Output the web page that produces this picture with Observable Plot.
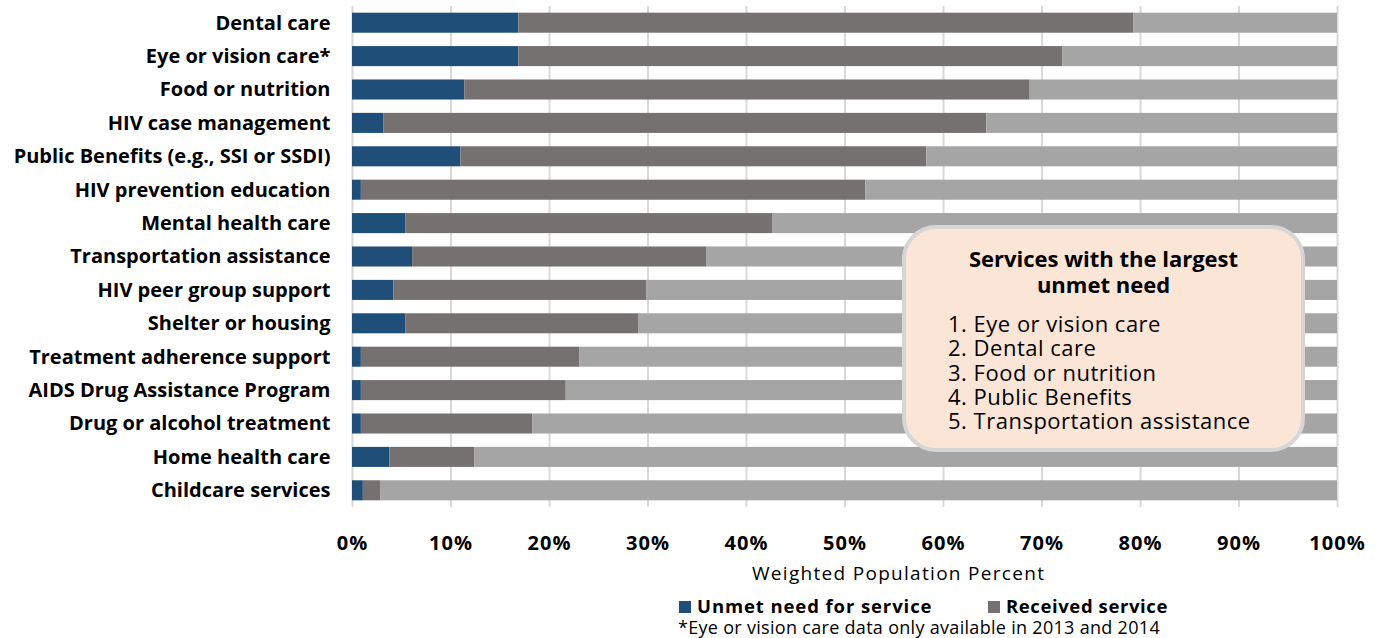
<!DOCTYPE html>
<html><head><meta charset="utf-8">
<script src="https://cdn.jsdelivr.net/npm/d3@7"></script>
<script src="https://cdn.jsdelivr.net/npm/@observablehq/plot@0.6"></script>
<style>
body{margin:0;background:#fff;font-family:"Open Sans",sans-serif;}
#wrap{position:relative;width:1382px;height:638px;overflow:hidden;}
.abs{position:absolute;white-space:nowrap;color:#000;}
#box{position:absolute;left:902px;top:225px;width:403px;height:227px;box-sizing:border-box;border:4px solid #d6d6d6;border-radius:34px;background:#fbe5d6;}
.sw{display:inline-block;width:12px;height:12px;margin-right:6px;vertical-align:0px;}
</style></head>
<body><div id="wrap"></div>
<script>
const categories = ["Dental care","Eye or vision care*","Food or nutrition","HIV case management","Public Benefits (e.g., SSI or SSDI)","HIV prevention education","Mental health care","Transportation assistance","HIV peer group support","Shelter or housing","Treatment adherence support","AIDS Drug Assistance Program","Drug or alcohol treatment","Home health care","Childcare services"];
const unmet    = [16.9, 16.9, 11.4, 3.2, 11.0, 0.9, 5.4, 6.1, 4.2, 5.4, 0.9, 0.9, 0.9, 3.8, 1.1];
const received = [62.4, 55.2, 57.4, 61.2, 47.3, 51.2, 37.3, 29.9, 25.7, 23.7, 22.2, 20.8, 17.4, 8.6, 1.8];
const seriesNames = ["Unmet need for service","Received service","Other"];
const seriesColors = ["#1f4e79","#767171","#a5a5a5"];
const xTicks = [0,10,20,30,40,50,60,70,80,90,100];
const boxTitle = ["Services with the largest","unmet need"];
const topList = ["1. Eye or vision care","2. Dental care","3. Food or nutrition","4. Public Benefits","5. Transportation assistance"];

const data = categories.flatMap((c,i)=>[
  {category:c, series:seriesNames[0], value:unmet[i]},
  {category:c, series:seriesNames[1], value:received[i]},
  {category:c, series:seriesNames[2], value:100-unmet[i]-received[i]}
]);

const chart = Plot.plot({
  width:1382, height:590,
  marginLeft:352, marginRight:45, marginTop:6, marginBottom:83,
  style:{fontFamily:"'Open Sans', sans-serif", fontSize:"20px", color:"#000", background:"transparent"},
  x:{domain:[0,100], label:null},
  y:{domain:categories, paddingInner:0.4, paddingOuter:0.2, round:false, label:null},
  color:{domain:seriesNames, range:seriesColors},
  marks:[
    Plot.gridX(xTicks, {stroke:"#d9d9d9", strokeOpacity:1, strokeWidth:2}),
    Plot.barX(data, {x:"value", y:"category", fill:"series", order:seriesNames}),
    Plot.axisX(xTicks, {tickSize:0, tickPadding:28, tickFormat:d=>d+"%", fontWeight:"bold", fontSize:20, label:null}),
    Plot.axisY({tickSize:0, tickPadding:22, fontWeight:"bold", fontSize:20, label:null})
  ]
});
chart.querySelectorAll('g[aria-label="x-axis tick label"]').forEach(g=>g.setAttribute("letter-spacing","1"));
const wrap = document.getElementById("wrap");
wrap.appendChild(chart);

function addText(txt, css){ const d=document.createElement("div"); d.className="abs"; d.style.cssText=css; d.innerHTML=txt; wrap.appendChild(d); return d; }
addText("Weighted Population Percent","left:752px;top:560px;font-size:19px;letter-spacing:1.3px;");
addText(`<span class="sw" style="background:${seriesColors[0]}"></span>${seriesNames[0]}`,"left:679px;top:595px;font-size:18.5px;line-height:22px;font-weight:bold;letter-spacing:0.9px;");
addText(`<span class="sw" style="background:${seriesColors[1]}"></span>${seriesNames[1]}`,"left:988px;top:595px;font-size:18.5px;line-height:22px;font-weight:bold;letter-spacing:0.6px;");
addText("*Eye or vision care data only available in 2013 and 2014","left:678px;top:617px;font-size:18px;line-height:21px;letter-spacing:0.3px;");

const box=document.createElement("div"); box.id="box"; wrap.appendChild(box);
boxTitle.forEach((t,i)=>addText(t,`left:902px;width:403px;top:${245+i*26}px;height:26px;text-align:center;font-size:22px;font-weight:bold;line-height:26px;`));
topList.forEach((t,i)=>addText(t,`left:948px;top:${311+i*24.3}px;height:24.3px;font-size:22px;line-height:24.3px;letter-spacing:0.5px;`));
</script></body></html>
